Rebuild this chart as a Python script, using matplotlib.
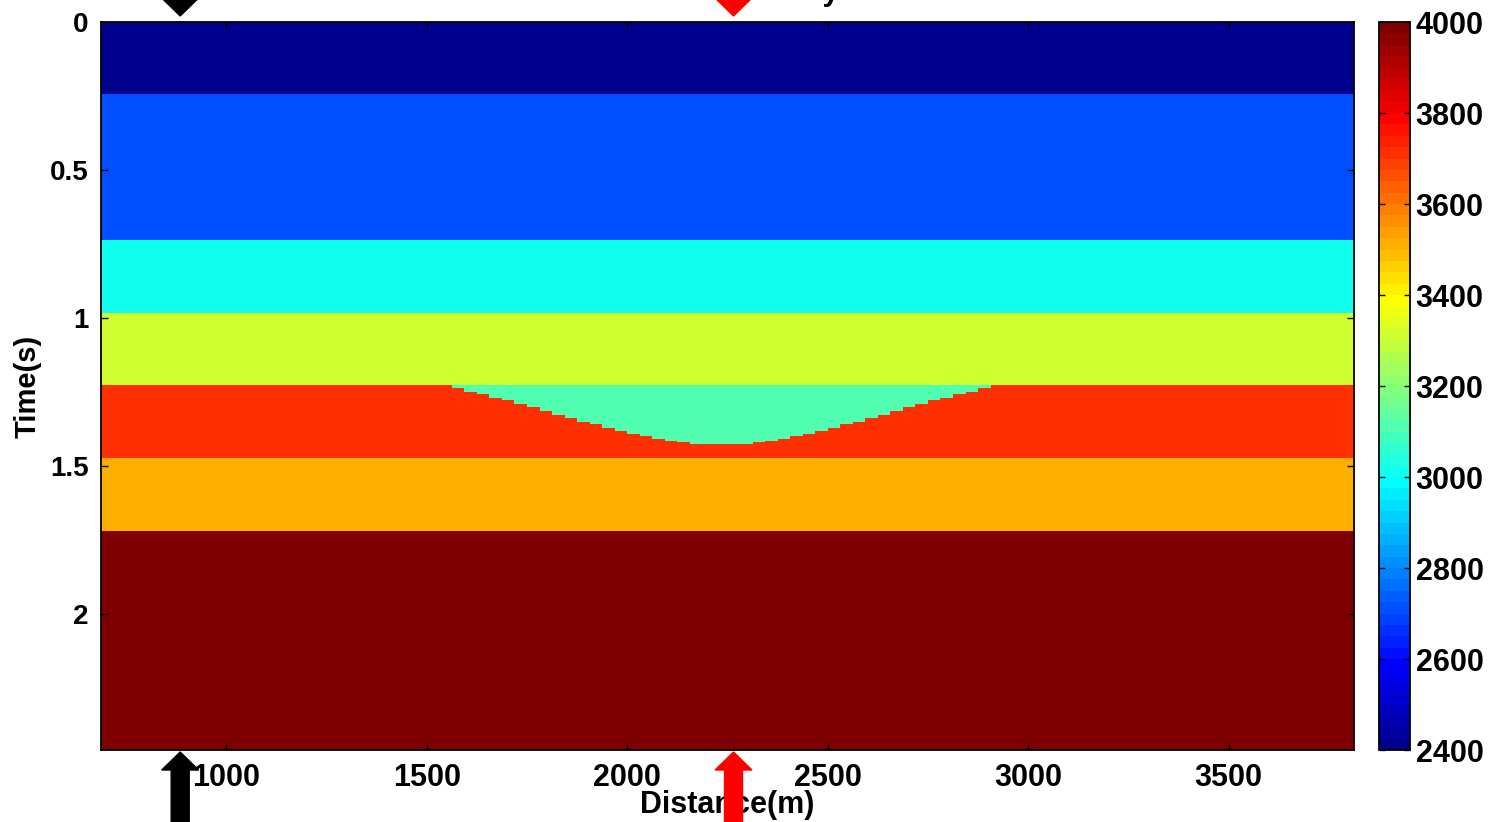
import numpy as np
import matplotlib
matplotlib.use("Agg")
import matplotlib.pyplot as plt
from matplotlib.colors import ListedColormap
from matplotlib.patches import FancyArrow
from matplotlib.transforms import blended_transform_factory

plt.rcParams['font.family'] = ['Liberation Sans', 'DejaVu Sans']
plt.rcParams['font.weight'] = 'bold'

# velocity model: flat layers (top time in s, velocity in m/s)
layer_tops = [0.0, 0.246, 0.738, 0.984, 1.23, 1.476, 1.722]
layer_vel = [2400, 2700, 3000, 3300, 3700, 3500, 4000]
t_max = 2.46

# trace grid
x_first = 687.5
dx = 31.25
n_traces = 100

# channel / lens body inside layer 5
lens_vel = 3100
lens_top = 1.23
lens_first_trace = 28
lens_bottom = [1.238, 1.251, 1.260, 1.273, 1.280, 1.292, 1.304, 1.315, 1.328, 1.341,
               1.353, 1.360, 1.373, 1.385, 1.392, 1.402, 1.410, 1.418, 1.421,
               1.426, 1.426, 1.426, 1.426, 1.426,
               1.421, 1.418, 1.410, 1.402, 1.392, 1.385, 1.373, 1.360, 1.353,
               1.341, 1.328, 1.315, 1.304, 1.292, 1.280, 1.273, 1.260, 1.251, 1.238]

# well positions (m)
wells = [885, 2265]
well_colors = ['black', 'red']


def matlab_jet(m=64):
    n = int(np.ceil(m / 4))
    u = np.concatenate([np.arange(1, n + 1) / n, np.ones(n - 1), np.arange(n, 0, -1) / n])
    g = int(np.ceil(n / 2)) - (m % 4 == 1) + np.arange(1, len(u) + 1)
    r = g + n
    b = g - n
    J = np.zeros((m, 3))
    for col, idx in ((0, r), (1, g), (2, b)):
        ok = (idx >= 1) & (idx <= m)
        J[idx[ok] - 1, col] = u[ok]
    return ListedColormap(J)


dt = 0.001
nt = int(round(t_max / dt))
t = (np.arange(nt) + 0.5) * dt
layer_idx = np.searchsorted(layer_tops, t, side='right') - 1
model = np.repeat(np.array(layer_vel, dtype=float)[layer_idx][:, None], n_traces, axis=1)
for k, tb in enumerate(lens_bottom):
    j = lens_first_trace + k
    model[(t >= lens_top) & (t < tb), j] = lens_vel

x_last = x_first + n_traces * dx

fig = plt.figure(figsize=(14.93, 8.22), dpi=100)
ax = fig.add_axes([101 / 1493, 72 / 822, 1253 / 1493, 728 / 822])
cax = fig.add_axes([1379 / 1493, 72 / 822, 31 / 1493, 728 / 822])

im = ax.imshow(model, cmap=matlab_jet(64), vmin=2400, vmax=4000, aspect='auto',
               extent=(x_first, x_last, t_max, 0), interpolation='nearest',
               interpolation_stage='rgba')

ax.set_xlim(x_first, x_last)
ax.set_ylim(t_max, 0)
ax.set_xticks([1000, 1500, 2000, 2500, 3000, 3500])
ax.set_yticks([0, 0.5, 1, 1.5, 2])
ax.set_yticklabels(['0', '0.5', '1', '1.5', '2'])
ax.tick_params(direction='in', length=5, width=1, top=True, right=True, pad=9)
ax.tick_params(axis='x', labelsize=22)
ax.tick_params(axis='y', labelsize=20)
for lab in ax.get_xticklabels() + ax.get_yticklabels():
    lab.set_fontweight('bold')
for sp in ax.spines.values():
    sp.set_linewidth(1.3)
ax.set_xlabel('Distance(m)', fontsize=22, fontweight='bold', labelpad=-2)
ax.set_ylabel('Time(s)', fontsize=21, fontweight='bold', labelpad=6)

cb = fig.colorbar(im, cax=cax, ticks=np.arange(2400, 4001, 200))
cb.outline.set_linewidth(1.3)
cax.tick_params(direction='in', length=4, width=1, left=True, right=True, labelsize=22, pad=4)
for lab in cax.get_yticklabels():
    lab.set_fontweight('bold')

# arrows marking the wells, above and below the section
trans = blended_transform_factory(ax.transData, fig.transFigure)
for xw, c in zip(wells, well_colors):
    for tail, tip in ((-0.03, 70 / 822), (1.06, 1 - 16 / 822)):
        arr = FancyArrow(xw, tail, 0, tip - tail, width=45, head_width=92,
                         head_length=18 / 822, length_includes_head=True,
                         transform=trans, color=c, clip_on=False, zorder=5)
        fig.add_artist(arr)

fig.text(840 / 1493, 1.0, 'Velocity', ha='right', va='baseline', fontsize=22,
         fontweight='bold')

fig.savefig('out.png', dpi=100)
